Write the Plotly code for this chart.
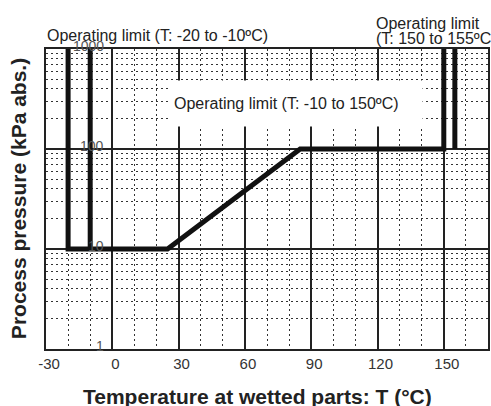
import math
import plotly.graph_objects as go

# ---- data ----
main_T = [-20, -20, 25, 85, 150, 150]
main_P = [1000, 10, 10, 100, 100, 1000]
low_limit_T = [-10, -10]
low_limit_P = [10, 1000]
high_limit_T = [155, 155]
high_limit_P = [100, 1000]

x_tick_vals = [-30, 0, 30, 60, 90, 120, 150]
x_tick_text = ["-30", "0", "30", "60", "90", "120", "150"]
y_tick_vals = [1, 10, 100, 1000]
y_tick_text = ["1", "10", "100", "1000"]

FONT = "Arial, Liberation Sans, sans-serif"
LINE = "#111111"
TXT = "#222222"

fig = go.Figure()
for T, P in [(main_T, main_P), (low_limit_T, low_limit_P), (high_limit_T, high_limit_P)]:
    fig.add_trace(go.Scatter(x=T, y=P, mode="lines",
                             line=dict(color=LINE, width=5),
                             hoverinfo="skip", showlegend=False))

grid_major = dict(showgrid=True, gridcolor="#222222", gridwidth=2)
minor_style = dict(showgrid=True, gridcolor="#333333", gridwidth=1, griddash="2px,3px", ticks="")

fig.update_xaxes(range=[-30, 170], tickmode="array", tickvals=x_tick_vals, ticktext=x_tick_text,
                 ticks="", zeroline=False, showline=True, linecolor="#222222", linewidth=2, mirror=True,
                 tickfont=dict(family=FONT, size=15, color="#333333"), ticklabelshift=3,
                 minor=dict(dtick=10, tick0=0, **minor_style), **grid_major)
fig.update_yaxes(type="log", range=[0, 3], tickmode="array", tickvals=y_tick_vals,
                 showticklabels=False, ticks="", zeroline=False, showline=True,
                 linecolor="#222222", linewidth=2, mirror=True,
                 minor=dict(dtick="D1", **minor_style), **grid_major)

annotations = []
# y tick labels drawn inside plot area
for v, t in zip(y_tick_vals, y_tick_text):
    annotations.append(dict(x=-3.0, y=math.log10(v), xref="x", yref="y", text=t, showarrow=False,
                            xanchor="right", yanchor="middle", yshift=3,
                            font=dict(family=FONT, size=14, color="#555555")))

def px_x(p):
    return (p - 46) / 444

def px_y(p):
    return (349 - p) / 300

annotations += [
    dict(x=px_x(45), y=px_y(35), xref="paper", yref="paper", text="Operating limit (T: -20 to -10ºC)",
         showarrow=False, xanchor="left", yanchor="middle", font=dict(family=FONT, size=16, color=TXT)),
    dict(x=px_x(375), y=px_y(23), xref="paper", yref="paper", text="Operating limit",
         showarrow=False, xanchor="left", yanchor="middle", font=dict(family=FONT, size=16, color=TXT)),
    dict(x=px_x(375), y=px_y(39), xref="paper", yref="paper", text="(T: 150 to 155ºC)",
         showarrow=False, xanchor="left", yanchor="middle", font=dict(family=FONT, size=16, color=TXT)),
    dict(x=px_x(170), y=px_y(80), xref="paper", yref="paper",
         text="Operating limit (T: -10 to 150ºC)", showarrow=False, xanchor="left", yanchor="top",
         width=244, height=37, align="left", valign="middle", bgcolor="white", borderpad=4,
         font=dict(family=FONT, size=16, color=TXT)),
    dict(x=px_x(258), y=px_y(396), xref="paper", yref="paper",
         text="<b>Temperature at wetted parts: T (°C)</b>", showarrow=False, xanchor="center",
         yanchor="middle", font=dict(family=FONT, size=21, color=TXT)),
    dict(x=px_x(18), y=0.5, xref="paper", yref="paper",
         text="<b>Process pressure (kPa abs.)</b>", showarrow=False, textangle=-90,
         xanchor="center", yanchor="middle", font=dict(family=FONT, size=21, color=TXT)),
]

fig.update_layout(width=491, height=406, margin=dict(l=46, r=1, t=49, b=57),
                  plot_bgcolor="white", paper_bgcolor="white", annotations=annotations,
                  font=dict(family=FONT))
fig.write_html("out.html", config={"displayModeBar": False},
               post_script="document.body.style.margin='0px';document.body.style.overflow='hidden';")
